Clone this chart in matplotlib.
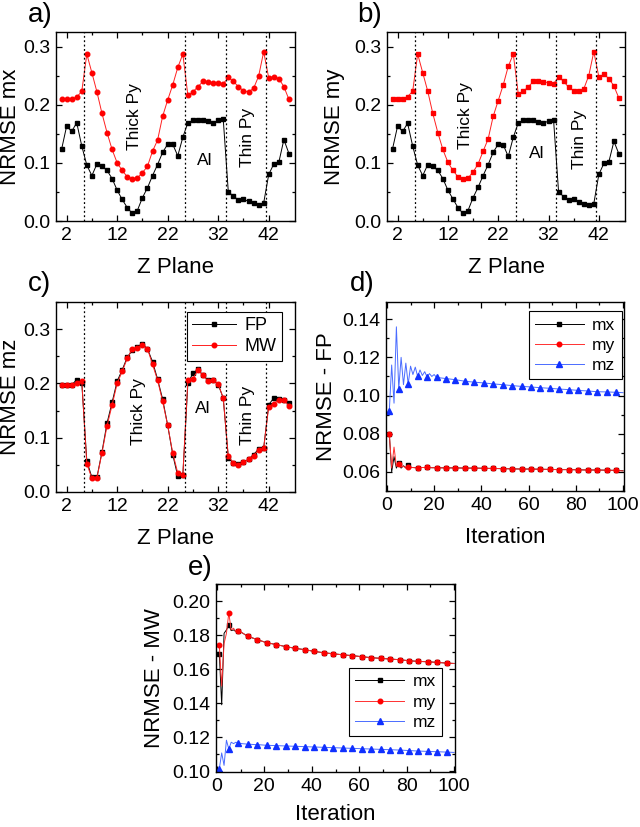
import matplotlib
matplotlib.use('Agg')
import matplotlib.pyplot as plt
import numpy as np
from matplotlib.ticker import MultipleLocator, FixedLocator

plt.rcParams['font.family'] = ['Liberation Sans', 'DejaVu Sans']

# ---- data: Z-plane panels (planes 1..46) ----
z_plane = list(range(1, 47))
layer_edges = [5.5, 25.5, 33.5, 41.5]

a_fp = [0.123, 0.163, 0.154, 0.169, 0.129, 0.096, 0.078, 0.098, 0.094, 0.087,
        0.073, 0.053, 0.037, 0.023, 0.013, 0.018, 0.040, 0.057, 0.078, 0.097,
        0.118, 0.132, 0.132, 0.112, 0.144, 0.169, 0.173, 0.173, 0.173, 0.172,
        0.168, 0.173, 0.175, 0.050, 0.043, 0.036, 0.037, 0.034, 0.031, 0.028,
        0.031, 0.080, 0.098, 0.101, 0.140, 0.116]
a_mw = [0.210, 0.209, 0.210, 0.213, 0.223, 0.287, 0.255, 0.222, 0.185, 0.152,
        0.123, 0.100, 0.087, 0.076, 0.073, 0.074, 0.083, 0.094, 0.120, 0.139,
        0.180, 0.208, 0.234, 0.264, 0.287, 0.216, 0.222, 0.231, 0.240, 0.239,
        0.238, 0.237, 0.236, 0.247, 0.240, 0.231, 0.224, 0.222, 0.228, 0.249,
        0.291, 0.246, 0.248, 0.245, 0.231, 0.209]

b_fp = [0.124, 0.163, 0.154, 0.168, 0.129, 0.096, 0.078, 0.097, 0.094, 0.087,
        0.073, 0.053, 0.038, 0.023, 0.013, 0.018, 0.040, 0.058, 0.078, 0.097,
        0.118, 0.132, 0.131, 0.111, 0.144, 0.169, 0.173, 0.173, 0.173, 0.171,
        0.168, 0.172, 0.174, 0.050, 0.042, 0.036, 0.037, 0.033, 0.030, 0.028,
        0.030, 0.080, 0.099, 0.102, 0.137, 0.115]
b_mw = [0.209, 0.209, 0.210, 0.214, 0.223, 0.287, 0.255, 0.223, 0.185, 0.152,
        0.123, 0.101, 0.087, 0.076, 0.073, 0.074, 0.084, 0.098, 0.120, 0.141,
        0.180, 0.207, 0.234, 0.266, 0.287, 0.218, 0.223, 0.231, 0.240, 0.240,
        0.239, 0.238, 0.236, 0.248, 0.240, 0.230, 0.224, 0.223, 0.227, 0.250,
        0.291, 0.248, 0.252, 0.245, 0.232, 0.211]

c_fp = [0.198, 0.198, 0.197, 0.207, 0.201, 0.057, 0.027, 0.027, 0.074, 0.127,
        0.165, 0.204, 0.225, 0.248, 0.261, 0.267, 0.272, 0.264, 0.240, 0.208,
        0.171, 0.123, 0.069, 0.029, 0.031, 0.200, 0.219, 0.226, 0.215, 0.206,
        0.207, 0.198, 0.173, 0.063, 0.054, 0.051, 0.055, 0.060, 0.069, 0.079,
        0.081, 0.161, 0.173, 0.172, 0.170, 0.164]
c_mw = [0.197, 0.198, 0.197, 0.200, 0.205, 0.052, 0.025, 0.026, 0.072, 0.122,
        0.160, 0.200, 0.222, 0.246, 0.264, 0.266, 0.271, 0.264, 0.235, 0.206,
        0.167, 0.123, 0.072, 0.035, 0.031, 0.207, 0.209, 0.224, 0.215, 0.204,
        0.206, 0.199, 0.173, 0.066, 0.054, 0.049, 0.055, 0.060, 0.067, 0.077,
        0.081, 0.157, 0.163, 0.170, 0.170, 0.158]

# ---- data: iteration panels ----
iterations = list(range(1, 21)) + list(range(21, 98, 4)) + [100]

d_mx = [0.0800, 0.0600, 0.0680, 0.0620, 0.0645, 0.0620, 0.0632, 0.0622, 0.0635, 0.0624,
        0.0623, 0.0622, 0.0622, 0.0623, 0.0623, 0.0623, 0.0624, 0.0623, 0.0622, 0.0622,
        0.0622, 0.0621, 0.0621, 0.0620, 0.0620, 0.0619, 0.0618, 0.0617, 0.0616, 0.0615,
        0.0615, 0.0614, 0.0613, 0.0612, 0.0612, 0.0611, 0.0610, 0.0610, 0.0609, 0.0608,
        0.0606]
d_my = [0.0800, 0.0620, 0.0730, 0.0630, 0.0640, 0.0625, 0.0630, 0.0620, 0.0625, 0.0622,
        0.0623, 0.0622, 0.0622, 0.0623, 0.0623, 0.0623, 0.0624, 0.0623, 0.0622, 0.0622,
        0.0622, 0.0621, 0.0621, 0.0620, 0.0620, 0.0619, 0.0618, 0.0617, 0.0616, 0.0615,
        0.0615, 0.0614, 0.0613, 0.0612, 0.0612, 0.0611, 0.0610, 0.0610, 0.0609, 0.0608,
        0.0605]
d_mz = [0.0920, 0.1160, 0.0960, 0.1360, 0.1035, 0.1200, 0.1057, 0.1170, 0.1060, 0.1154,
        0.1110, 0.1149, 0.1100, 0.1134, 0.1105, 0.1125, 0.1097, 0.1115, 0.1100, 0.1110,
        0.1095, 0.1089, 0.1083, 0.1075, 0.1070, 0.1066, 0.1061, 0.1057, 0.1052, 0.1048,
        0.1045, 0.1041, 0.1038, 0.1034, 0.1031, 0.1027, 0.1024, 0.1020, 0.1019, 0.1017,
        0.1015]

e_mx = [0.1690, 0.1390, 0.1810, 0.1830, 0.1860, 0.1826, 0.1830, 0.1820, 0.1826, 0.1818,
        0.1810, 0.1801, 0.1793, 0.1788, 0.1783, 0.1778, 0.1773, 0.1768, 0.1764, 0.1759,
        0.1755, 0.1744, 0.1732, 0.1722, 0.1714, 0.1704, 0.1696, 0.1690, 0.1684, 0.1679,
        0.1673, 0.1667, 0.1663, 0.1659, 0.1655, 0.1649, 0.1645, 0.1643, 0.1639, 0.1635,
        0.1633]
e_my = [0.1740, 0.1500, 0.1750, 0.1810, 0.1930, 0.1830, 0.1840, 0.1820, 0.1826, 0.1818,
        0.1810, 0.1801, 0.1793, 0.1788, 0.1783, 0.1778, 0.1773, 0.1768, 0.1764, 0.1759,
        0.1755, 0.1744, 0.1732, 0.1722, 0.1714, 0.1704, 0.1696, 0.1690, 0.1684, 0.1679,
        0.1673, 0.1667, 0.1663, 0.1659, 0.1655, 0.1649, 0.1645, 0.1643, 0.1639, 0.1635,
        0.1633]
e_mz = [0.1014, 0.1107, 0.1034, 0.1182, 0.1130, 0.1170, 0.1162, 0.1170, 0.1165, 0.1163,
        0.1161, 0.1160, 0.1158, 0.1158, 0.1157, 0.1156, 0.1156, 0.1155, 0.1154, 0.1153,
        0.1152, 0.1150, 0.1148, 0.1146, 0.1144, 0.1142, 0.1140, 0.1138, 0.1136, 0.1134,
        0.1132, 0.1130, 0.1128, 0.1126, 0.1124, 0.1121, 0.1118, 0.1116, 0.1114, 0.1112,
        0.1110]

W, H = 640, 827
fig = plt.figure(figsize=(W / 100, H / 100), dpi=100)
LABEL_FS = 16


def make_axes(left, top, right, bottom):
    ax = fig.add_axes([left / W, 1 - bottom / H, (right - left) / W, (bottom - top) / H])
    ax.tick_params(which='both', direction='in', top=True, right=True, labelsize=14,
                   width=0.9, pad=4)
    ax.tick_params(which='major', length=4)
    ax.tick_params(which='minor', length=2.5)
    for s in ax.spines.values():
        s.set_linewidth(1.0)
    return ax


def style_z(ax, ylabel, ymax):
    ax.set_xlim(-0.1, 47.2)
    ax.set_ylim(0, ymax)
    ax.xaxis.set_major_locator(FixedLocator([2, 12, 22, 32, 42]))
    ax.xaxis.set_minor_locator(FixedLocator([7, 17, 27, 37]))
    ax.yaxis.set_major_locator(MultipleLocator(0.1))
    ax.yaxis.set_minor_locator(MultipleLocator(0.05))
    ax.yaxis.set_major_formatter(plt.FormatStrFormatter('%.1f'))
    for xe in layer_edges:
        ax.axvline(xe, color='black', ls=(0, (1.5, 2)), lw=0.9)
    ax.set_xlabel('Z Plane', fontsize=LABEL_FS)
    ax.set_ylabel(ylabel, fontsize=LABEL_FS)
    ax.xaxis.set_label_coords(0.5, -0.19)
    ax.yaxis.set_label_coords(-0.145, 0.5)


def layer_text(ax, thick, al, thin):
    ax.text(thick[0], thick[1], 'Thick Py', rotation=90, ha='center', va='center', fontsize=12.5)
    ax.text(al[0], al[1], 'Al', ha='center', va='center', fontsize=12.5)
    ax.text(thin[0], thin[1], 'Thin Py', rotation=90, ha='center', va='center', fontsize=12.5)


def iter_legend(ax, **kw):
    leg = ax.legend(fontsize=12.5, fancybox=False, edgecolor='black', framealpha=1,
                    handlelength=2.8, borderpad=0.35, labelspacing=0.3, handletextpad=0.5,
                    borderaxespad=0, **kw)
    leg.get_frame().set_linewidth(0.8)


marks = [i for i, it in enumerate(iterations) if (it - 1) % 4 == 0]

# a)
ax = make_axes(56, 32, 295, 221)
ax.plot(z_plane, a_fp, color='black', lw=0.7, marker='s', ms=3.3)
ax.plot(z_plane, a_mw, color='#ff2020', lw=0.7, marker='o', ms=3.3, mfc='red', mec='red')
style_z(ax, 'NRMSE mx', 0.325)
layer_text(ax, (15.5, 0.179), (29.4, 0.104), (37.8, 0.144))
fig.text(28 / W, 1 - 15 / H, 'a)', fontsize=20, va='center')

# b)
ax = make_axes(387, 32, 625, 221)
ax.plot(z_plane, b_fp, color='black', lw=0.7, marker='s', ms=3.3)
ax.plot(z_plane, b_mw, color='#ff2020', lw=0.7, marker='s', ms=3.5, mfc='red', mec='red')
style_z(ax, 'NRMSE my', 0.325)
ax.yaxis.set_label_coords(-0.175, 0.5)
layer_text(ax, (15.6, 0.181), (29.7, 0.116), (38.1, 0.141))
fig.text(357 / W, 1 - 15 / H, 'b)', fontsize=20, va='center')

# c)
ax = make_axes(56, 302, 295, 492)
ax.plot(z_plane, c_fp, color='black', lw=0.7, marker='s', ms=3.3, label='FP')
ax.plot(z_plane, c_mw, color='#ff2020', lw=0.7, marker='o', ms=3.3, mfc='red', mec='red',
        label='MW')
style_z(ax, 'NRMSE mz', 0.35)
layer_text(ax, (16.2, 0.149), (28.9, 0.154), (37.8, 0.141))
leg = ax.legend(loc='upper right', bbox_to_anchor=(0.946, 0.947), fontsize=13,
                fancybox=False, edgecolor='black', framealpha=1, handlelength=2.4,
                borderpad=0.3, labelspacing=0.2, handletextpad=0.5, borderaxespad=0)
leg.get_frame().set_linewidth(0.8)
fig.text(28 / W, 1 - 284 / H, 'c)', fontsize=20, va='center')

# d)
ax = make_axes(386, 302, 624, 491)
ax.plot(iterations, d_mx, color='black', lw=0.7, marker='s', ms=3.3, markevery=marks, label='mx')
ax.plot(iterations, d_my, color='#ff3030', lw=0.7, marker='o', ms=3.3, markevery=marks,
        mfc='red', mec='red', label='my')
ax.plot(iterations, d_mz, color='#4a6cff', lw=0.7, marker='^', ms=4.5, markevery=marks,
        mfc='#1030ff', mec='#1030ff', label='mz')
ax.set_xlim(-0.4, 100.4)
ax.set_ylim(0.05, 0.149)
ax.xaxis.set_major_locator(MultipleLocator(20))
ax.xaxis.set_minor_locator(MultipleLocator(10))
ax.yaxis.set_major_locator(MultipleLocator(0.02))
ax.yaxis.set_minor_locator(MultipleLocator(0.01))
ax.yaxis.set_major_formatter(plt.FormatStrFormatter('%.2f'))
ax.set_xlabel('Iteration', fontsize=LABEL_FS)
ax.set_ylabel('NRMSE - FP', fontsize=LABEL_FS)
ax.xaxis.set_label_coords(0.5, -0.19)
ax.yaxis.set_label_coords(-0.205, 0.5)
iter_legend(ax, loc='upper right', bbox_to_anchor=(0.99, 0.95))
fig.text(350 / W, 1 - 284 / H, 'd)', fontsize=20, va='center')

# e)
ax = make_axes(216, 584, 455, 772)
ax.plot(iterations, e_mx, color='black', lw=0.7, marker='s', ms=3.3, markevery=marks, label='mx')
ax.plot(iterations, e_my, color='#ff3030', lw=0.7, marker='o', ms=3.3, markevery=marks,
        mfc='red', mec='red', label='my')
ax.plot(iterations, e_mz, color='#4a6cff', lw=0.7, marker='^', ms=4.5, markevery=marks,
        mfc='#1030ff', mec='#1030ff', label='mz')
ax.set_xlim(-0.4, 100.4)
ax.set_ylim(0.0995, 0.21)
ax.xaxis.set_major_locator(MultipleLocator(20))
ax.xaxis.set_minor_locator(MultipleLocator(10))
ax.yaxis.set_major_locator(MultipleLocator(0.02))
ax.yaxis.set_minor_locator(MultipleLocator(0.01))
ax.yaxis.set_major_formatter(plt.FormatStrFormatter('%.2f'))
ax.set_xlabel('Iteration', fontsize=LABEL_FS)
ax.set_ylabel('NRMSE - MW', fontsize=LABEL_FS)
ax.xaxis.set_label_coords(0.5, -0.17)
ax.yaxis.set_label_coords(-0.213, 0.5)
iter_legend(ax, loc='lower right', bbox_to_anchor=(0.945, 0.19))
fig.text(188 / W, 1 - 568 / H, 'e)', fontsize=20, va='center')

fig.savefig('out.png', dpi=100)
